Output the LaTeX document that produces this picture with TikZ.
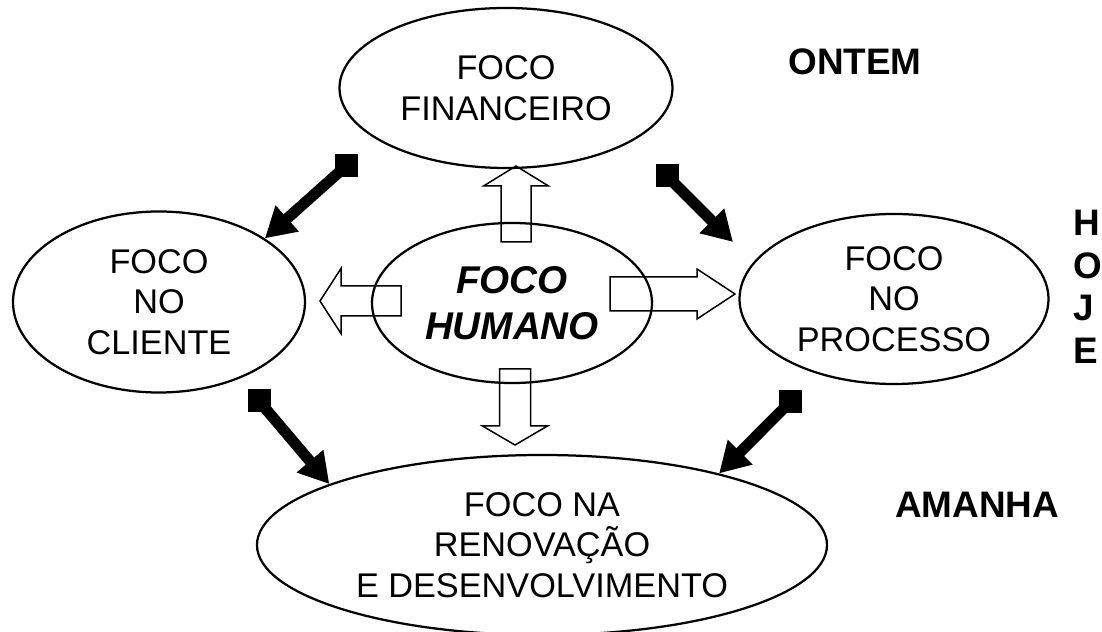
\documentclass[tikz,border=0pt]{standalone}
\usepackage{fontspec}
\setmainfont{Liberation Sans}
\usetikzlibrary{arrows.meta,shapes.geometric}
\newcommand{\blocoseta}[6]{%
	\draw [bloco,shift={#1},rotate=#2] (0,-#4) -- (#3-#6,-#4) -- (#3-#6,-#5) -- (#3,0)
		-- (#3-#6,#5) -- (#3-#6,#4) -- (0,#4) -- cycle;}

\begin{document}
\begin{tikzpicture}[x=0.2mm,y=-0.2mm,
	foco/.style={ellipse,draw,line width=0.45mm,inner sep=0pt,align=center,font=\fontsize{19.5}{23.2}\selectfont},
	tempo/.style={inner sep=0pt,align=left,font=\fontsize{21}{24.2}\selectfont\bfseries},
	bloco/.style={draw,line width=0.3mm,line join=miter},
	marca/.style={rectangle,fill,inner sep=0pt,minimum size=4.6mm},
	seta/.style={line width=2.2mm,-{Triangle[length=6mm,width=6.6mm]}}]
	\useasboundingbox (0,0) rectangle (1102,632);
	\node (fin) at (506,88) [foco,minimum width=66.6mm,minimum height=32mm] {FOCO\\FINANCEIRO};
	\node (cli) at (159,302) [foco,minimum width=58.4mm,minimum height=36.2mm] {FOCO\\NO\\CLIENTE};
	\node (hum) at (512,303) [foco,minimum width=56mm,minimum height=32mm,font=\fontsize{22}{26}\selectfont\bfseries\itshape] {FOCO\\HUMANO};
	\node (proc) at (894,299) [foco,minimum width=61.8mm,minimum height=34mm] {FOCO\\NO\\PROCESSO};
	\node (ren) at (542,545) [foco,minimum width=114mm,minimum height=36mm] {FOCO NA\\RENOVAÇÃO\\E DESENVOLVIMENTO};
	\node (ontem) at (855,62) [tempo] {ONTEM};
	\node (amanha) at (977,505) [tempo] {AMANHA};
	\node (hoje) at (1073,210) [tempo,anchor=north west] {H\\O\\J\\E};
	\blocoseta{(516,242)}{90}{76}{15}{32.5}{20}
	\blocoseta{(401,301)}{180}{81}{15}{32.5}{21}
	\blocoseta{(610,294)}{0}{125}{17}{25}{38}
	\blocoseta{(515,369)}{-90}{76}{15.5}{32.5}{19}
	\node (qA) at (346,166) [marca] {};
	\node (qB) at (667,176) [marca] {};
	\node (qC) at (259,401) [marca] {};
	\node (qD) at (790,402) [marca] {};
	\coordinate (pontaB) at (733,242);
	\draw [seta] (qA.center) -- (cli.31);
	\draw [seta] (qB.center) -- (pontaB);
	\draw [seta] (qC.center) -- (ren.164);
	\draw [seta] (qD.center) -- (ren.22);
\end{tikzpicture}
\end{document}
